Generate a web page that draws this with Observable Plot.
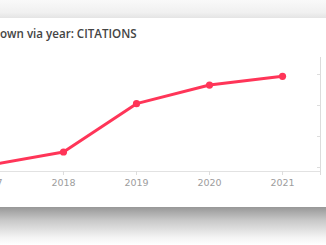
<!DOCTYPE html>
<html>
<head>
<meta charset="utf-8">
<script src="https://cdn.jsdelivr.net/npm/d3@7"></script>
<script src="https://cdn.jsdelivr.net/npm/@observablehq/plot@0.6"></script>
<style>
  html, body { margin: 0; padding: 0; background: #fff; overflow: hidden; }
  #wrap { position: relative; width: 326px; height: 245px; overflow: hidden; background: #fff; }
  #topshade { position: absolute; left: 0; top: 0; width: 326px; height: 18px;
    background: linear-gradient(#f9f9f9, #f0f0f0 70%, #e4e4e4); }
  #botshade { position: absolute; left: 0; top: 207px; width: 326px; height: 38px;
    background: linear-gradient(#979797, #c8c8c8 35%, #f4f4f4 80%, #fff); }
  #title { position: absolute; left: 0; top: 26px; line-height: 16px; white-space: nowrap;
    font-family: "Open Sans", sans-serif; font-weight: 600; font-size: 11.6px; color: #444; }
  #title .hid { position: absolute; right: 100%; top: 0; }
  #chart { position: absolute; left: -58px; top: 45px; width: 408px; }
  #chart svg { max-width: none !important; }
</style>
</head>
<body>
<div id="wrap">
  <div id="topshade"></div>
  <div id="title"><span class="hid">Breakd</span>own via year: CITATIONS</div>
  <div id="chart"></div>
  <div id="botshade"></div>
</div>
<script>
const years = [2017, 2018, 2019, 2020, 2021];
const citations = [4, 25, 103, 133, 147];
const yTicks = [0, 50, 100, 150];

const data = years.map((y, i) => ({year: y, value: citations[i]}));
const xMin = 2016.48, xMax = 2021.52;
const yMin = -6.45, yMax = 177.4;

const plot = Plot.plot({
  width: 408,
  height: 156,
  marginLeft: 10,
  marginRight: 30,
  marginTop: 12,
  marginBottom: 30,
  style: {fontFamily: "DejaVu Sans, sans-serif", fontSize: "9.5px", background: "transparent", maxWidth: "none"},
  x: {domain: [xMin, xMax]},
  y: {domain: [yMin, yMax]},
  marks: [
    Plot.ruleY([yMin], {stroke: "#e2e2e2", strokeWidth: 1}),
    Plot.ruleX([xMax], {stroke: "#dcdcdc", strokeWidth: 1, insetBottom: -4, insetTop: 0}),
    Plot.axisX({ticks: years, tickFormat: d => String(d), tickSize: 4, tickPadding: 4,
      stroke: "#dddddd", fill: "#9d9d9d", label: null}),
    Plot.axisY({anchor: "right", ticks: yTicks, tickSize: -4, tickPadding: 20,
      stroke: "#dddddd", fill: "#9d9d9d", label: null}),
    Plot.line(data, {x: "year", y: "value", stroke: "#ff3558", strokeWidth: 3, curve: "linear"}),
    Plot.dot(data, {x: "year", y: "value", r: 3.6, fill: "#ff3558", stroke: "none"})
  ]
});
document.getElementById("chart").appendChild(plot);
</script>
</body>
</html>
